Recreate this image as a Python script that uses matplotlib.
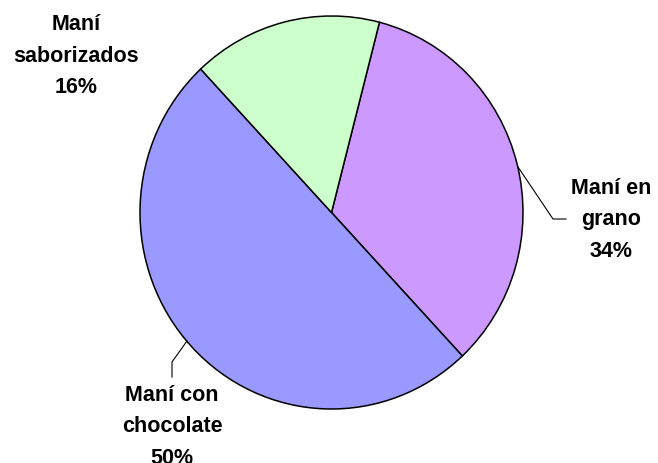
import matplotlib
matplotlib.use("Agg")
import matplotlib.pyplot as plt
from matplotlib.lines import Line2D

labels = ["Maní en\ngrano", "Maní con\nchocolate", "Maní\nsaborizados"]
values = [34, 50, 16]
colors = ["#CC99FF", "#9999FF", "#CCFFCC"]

W, H = 658, 464
fig = plt.figure(figsize=(W / 100, H / 100), dpi=100)
fig.patch.set_facecolor("white")

def fx(x):
    return x / W

def fy(y):
    return 1 - y / H

# axes covering pie bounding box (pixels: x 140..523, y 17..410)
ax = fig.add_axes([fx(140), fy(410), fx(523) - fx(140), fy(17) - fy(410)])
ax.pie(values, colors=colors, startangle=75.5, counterclock=False,
       radius=1, center=(0, 0),
       wedgeprops=dict(edgecolor="black", linewidth=1.1))
ax.set_xlim(-1, 1)
ax.set_ylim(-1, 1)
ax.set_aspect("auto")
ax.axis("off")

font = dict(family=["Liberation Sans", "DejaVu Sans"], fontsize=15.5,
            fontweight="bold", ha="center", va="center", linespacing=1.68)

label_pos = [(611, 220), (172, 427), (76, 56)]
for lab, v, (x, y) in zip(labels, values, label_pos):
    fig.text(fx(x), fy(y), f"{lab}\n{v}%", **font)

# leader lines
leaders = [
    [(518, 168), (553, 220), (566, 220)],
    [(187, 342), (172, 363), (172, 378)],
]
for pts in leaders:
    xs = [fx(p[0]) for p in pts]
    ys = [fy(p[1]) for p in pts]
    fig.add_artist(Line2D(xs, ys, transform=fig.transFigure,
                          color="black", linewidth=0.8))

fig.savefig("out.png", dpi=100)
